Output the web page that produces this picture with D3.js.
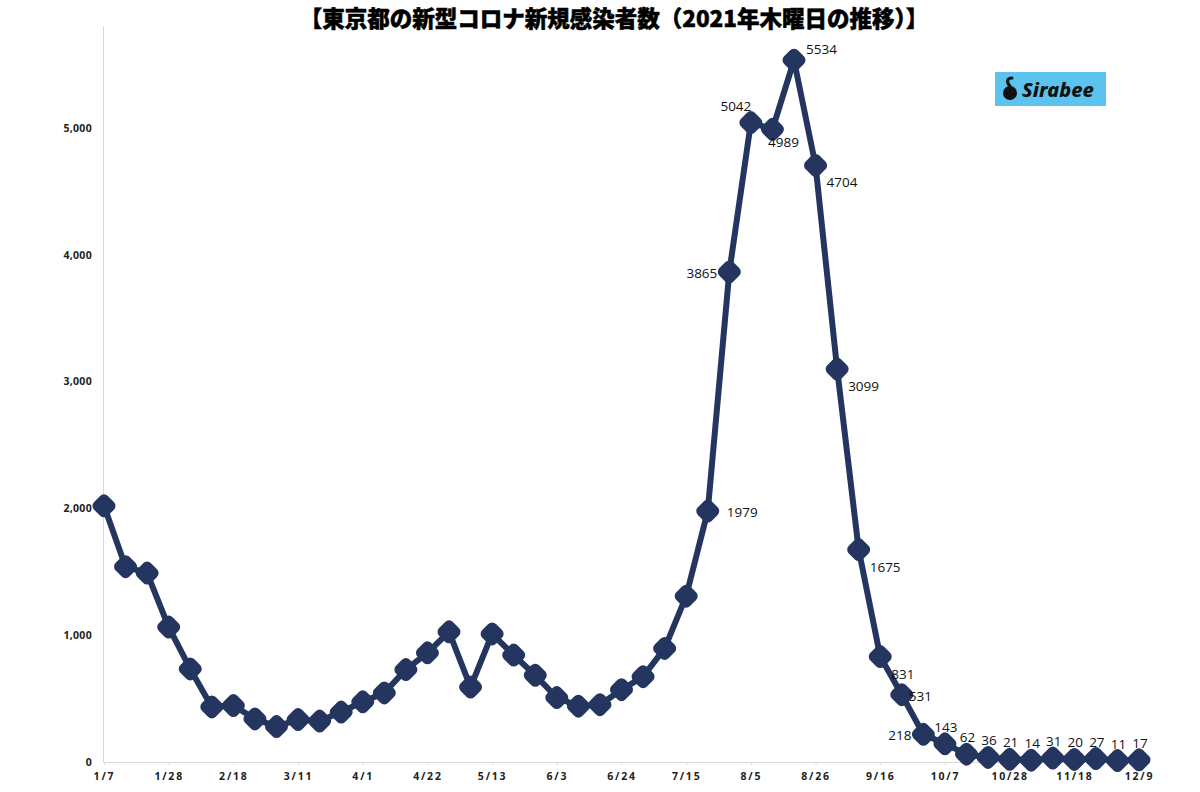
<!DOCTYPE html>
<html>
<head>
<meta charset="utf-8">
<script src="https://cdn.jsdelivr.net/npm/d3@7"></script>
<style>
  body { margin: 0; background: #fff; }
  svg { display: block; }
  .axis path, .axis line { stroke: #d9d9d9; }
  .axis text { font-family: 'Noto Sans', sans-serif; font-weight: 700; fill: #222; }
</style>
</head>
<body>
<svg id="chart" width="1200" height="792"></svg>
<script>
// Thursdays of 2021
const dates = ['1/7','1/14','1/21','1/28','2/4','2/11','2/18','2/25','3/4','3/11','3/18','3/25',
  '4/1','4/8','4/15','4/22','4/29','5/6','5/13','5/20','5/27','6/3','6/10','6/17','6/24',
  '7/1','7/8','7/15','7/22','7/29','8/5','8/12','8/19','8/26','9/2','9/9','9/16','9/23','9/30',
  '10/7','10/14','10/21','10/28','11/4','11/11','11/18','11/25','12/2','12/9'];

const cases = [2020, 1540, 1490, 1064, 734, 434, 445, 340, 279, 335, 323, 394,
  475, 545, 729, 861, 1027, 591, 1010, 843, 684, 508, 440, 452, 570,
  673, 896, 1308, 1979, 3865, 5042, 4989, 5534, 4704, 3099, 1675, 831, 531, 218,
  143, 62, 36, 21, 14, 31, 20, 27, 11, 17];

// only the later points carry a value label
const labelFrom = 28;
const labelSpots = ['r','l','tl','b','tr','br','br','br','br','rc','l',
  't','t','t','t','t','t','t','t','t','t'];

const yTicks = [0, 1000, 2000, 3000, 4000, 5000];
const xTickDates = ['1/7','1/28','2/18','3/11','4/1','4/22','5/13','6/3','6/24','7/15',
  '8/5','8/26','9/16','10/7','10/28','11/18','12/9'];

const title = '【東京都の新型コロナ新規感染者数（2021年木曜日の推移）】';

const svg = d3.select('#chart');
const navy = '#24365f';

const x = d3.scalePoint().domain(dates).range([104, 1139]);
const y = d3.scaleLinear().domain([0, 5800]).range([762, 26.5]);

// title
svg.append('text')
  .attr('x', 614)
  .attr('y', 27)
  .attr('text-anchor', 'middle')
  .style('font-family', "'Noto Sans CJK JP', sans-serif")
  .style('font-weight', 900)
  .style('font-size', '22.5px')
  .style('stroke', '#000')
  .style('stroke-width', 0.5)
  .text(title);

// axes
svg.append('line')
  .attr('x1', 103.5).attr('x2', 103.5)
  .attr('y1', y.range()[1]).attr('y2', y(0))
  .attr('stroke', '#d9d9d9');

svg.append('g')
  .attr('class', 'axis')
  .attr('transform', 'translate(0,' + y(0) + ')')
  .call(d3.axisBottom(x).tickValues(xTickDates).tickSize(3).tickSizeOuter(0).tickPadding(8))
  .call(g => g.select('.domain').attr('d', 'M103.5,0.5H1150'))
  .call(g => g.selectAll('text').style('font-size', '10.5px').style('letter-spacing', '1.8px'));

svg.append('g')
  .attr('class', 'axis')
  .attr('transform', 'translate(92,0)')
  .call(d3.axisLeft(y).tickValues(yTicks).tickSize(0).tickPadding(0).tickFormat(d3.format(',')))
  .call(g => g.select('.domain').remove())
  .call(g => g.selectAll('text').style('font-size', '10.5px').style('letter-spacing', '0.3px'));

// line
const line = d3.line()
  .x((d, i) => x(dates[i]))
  .y(d => y(d));

svg.append('path')
  .datum(cases)
  .attr('fill', 'none')
  .attr('stroke', navy)
  .attr('stroke-width', 6)
  .attr('stroke-linejoin', 'round')
  .attr('d', line);

// rounded diamond markers
const diamond = (cx, cy) => {
  const r = 6;
  return 'M' + cx + ',' + (cy - r) + 'L' + (cx + r) + ',' + cy + 'L' + cx + ',' + (cy + r) + 'L' + (cx - r) + ',' + cy + 'Z';
};

svg.append('g')
  .selectAll('path')
  .data(cases)
  .join('path')
  .attr('d', (d, i) => diamond(x(dates[i]), y(d)))
  .attr('fill', navy)
  .attr('stroke', navy)
  .attr('stroke-width', 11)
  .attr('stroke-linejoin', 'round');

// value labels
const spot = {
  r:  { dx: 19, dy: 6, anchor: 'start' },
  rc: { dx: 7, dy: 6, anchor: 'start' },
  l:  { dx: -12, dy: 6, anchor: 'end' },
  tl: { dx: -15, dy: -12, anchor: 'middle' },
  tr: { dx: 12, dy: -6, anchor: 'start' },
  b:  { dx: 11, dy: 18, anchor: 'middle' },
  br: { dx: 11, dy: 22, anchor: 'start' },
  t:  { dx: 1, dy: -12, anchor: 'middle' }
};

svg.append('g')
  .selectAll('text')
  .data(cases.slice(labelFrom))
  .join('text')
  .each(function (d, i) {
    const s = spot[labelSpots[i]];
    d3.select(this)
      .attr('x', x(dates[i + labelFrom]) + s.dx)
      .attr('y', y(d) + s.dy)
      .attr('text-anchor', s.anchor);
  })
  .style('font-family', "'Open Sans', sans-serif")
  .style('font-size', '13.5px')
  .style('fill', '#111')
  .text(d => d);

// Sirabee badge
const logo = svg.append('g').attr('transform', 'translate(995,72)');
logo.append('rect').attr('width', 111).attr('height', 34).attr('fill', '#5cc3ee');
logo.append('circle').attr('cx', 15).attr('cy', 21).attr('r', 7).attr('fill', '#111');
logo.append('path')
  .attr('d', 'M15,14 C11,10 12,6 17,6')
  .attr('fill', 'none').attr('stroke', '#111').attr('stroke-width', 3).attr('stroke-linecap', 'round');
logo.append('text')
  .attr('x', 27).attr('y', 25)
  .style('font-family', "'Noto Sans', sans-serif")
  .style('font-weight', 800)
  .style('font-style', 'italic')
  .style('font-size', '20px')
  .style('fill', '#111')
  .text('Sirabee');
</script>
</body>
</html>
